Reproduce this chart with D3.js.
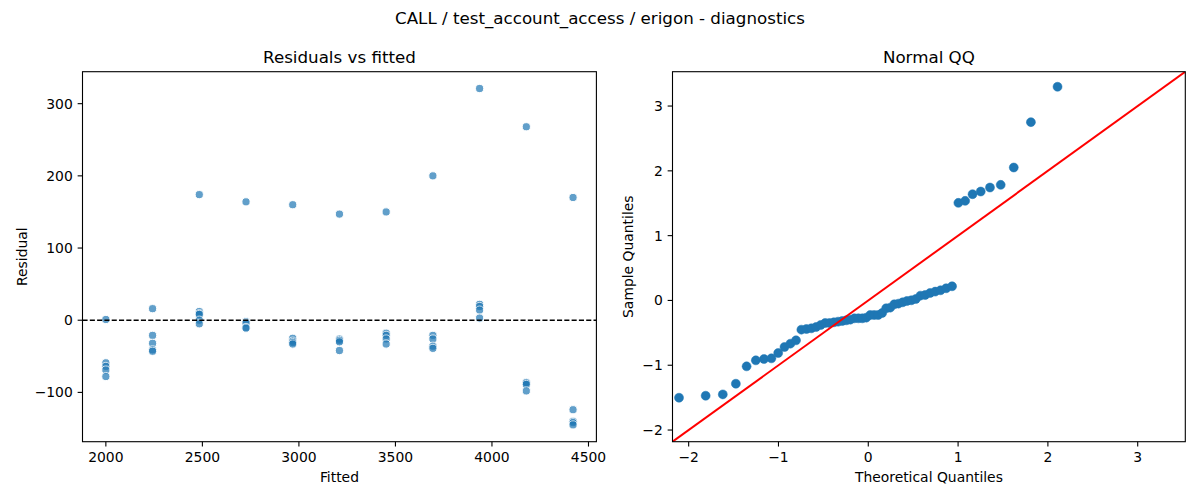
<!DOCTYPE html>
<html>
<head>
<meta charset="utf-8">
<script src="https://cdn.jsdelivr.net/npm/d3@7"></script>
<style>
  html, body { margin: 0; padding: 0; background: #fff; }
  svg { display: block; font-family: "DejaVu Sans", sans-serif; }
</style>
</head>
<body>
<svg id="chart" width="1200" height="500"></svg>
<script>
// ---- data ----
const fittedLevels = [2000, 2242, 2484, 2726, 2968, 3210, 3452, 3694, 3936, 4178, 4420];
const residualGroups = [
  [1, -59, -64, -69, -78],
  [16, -21, -32, -41, -43],
  [174, 12, 9, 8, 0, -5],
  [164, -2, -4, -10, -11],
  [160, -25, -29, -31, -33],
  [147, -26, -28, -30, -42],
  [150, -18, -21, -26, -33],
  [200, -21, -26, -36, -39],
  [321, 22, 19, 14, 3],
  [268, -86, -87, -89, -98],
  [170, -124, -140, -142, -145]
];
const residTicks = [-100, 0, 100, 200, 300];
const fittedTicks = [2000, 2500, 3000, 3500, 4000, 4500];
const qqTicks = [-2, -1, 0, 1, 2, 3];
const qqLimits = [-2.18, 3.53];
const suptitle = "CALL / test_account_access / erigon - diagnostics";

// ---- derived ----
const points = [];
fittedLevels.forEach((f, i) => residualGroups[i].forEach(r => points.push({ f, r })));
const resid = points.map(p => p.r);
const n = resid.length;
const mean = d3.mean(resid);
const sd = d3.deviation(resid);
const sorted = resid.slice().sort((a, b) => a - b);
// inverse normal CDF (Acklam)
function ppf(p) {
  const a = [-3.969683028665376e+01, 2.209460984245205e+02, -2.759285104469687e+02, 1.383577518672690e+02, -3.066479806614716e+01, 2.506628277459239e+00];
  const b = [-5.447609879822406e+01, 1.615858368580409e+02, -1.556989798598866e+02, 6.680131188771972e+01, -1.328068155288572e+01];
  const c = [-7.784894002430293e-03, -3.223964580411365e-01, -2.400758277161838e+00, -2.549732539343734e+00, 4.374664141464968e+00, 2.938163982698783e+00];
  const d = [7.784695709041462e-03, 3.224671290700398e-01, 2.445134137142996e+00, 3.754408661907416e+00];
  const pl = 0.02425, ph = 1 - pl;
  let q, r;
  if (p < pl) { q = Math.sqrt(-2 * Math.log(p)); return (((((c[0]*q+c[1])*q+c[2])*q+c[3])*q+c[4])*q+c[5]) / ((((d[0]*q+d[1])*q+d[2])*q+d[3])*q+1); }
  if (p <= ph) { q = p - 0.5; r = q*q; return (((((a[0]*r+a[1])*r+a[2])*r+a[3])*r+a[4])*r+a[5])*q / (((((b[0]*r+b[1])*r+b[2])*r+b[3])*r+b[4])*r+1); }
  q = Math.sqrt(-2 * Math.log(1 - p));
  return -(((((c[0]*q+c[1])*q+c[2])*q+c[3])*q+c[4])*q+c[5]) / ((((d[0]*q+d[1])*q+d[2])*q+d[3])*q+1);
}
const qq = sorted.map((v, i) => ({ t: ppf((i + 1) / (n + 1)), s: (v - mean) / sd }));

// ---- drawing ----
const svg = d3.select("#chart");
const tickLen = 4.86, tickPad = 4.86;
const fs = 13.9;

svg.append("text").attr("x", 600).attr("y", 24).attr("text-anchor", "middle")
  .attr("font-size", 16.7).attr("fill", "#000").text(suptitle);

function pad(ext) { const r = ext[1] - ext[0]; return [ext[0] - r * 0.05, ext[1] + r * 0.05]; }

function axesFrame(g, x, y, xTicks, yTicks, title, xlab, ylab, box, ylabX) {
  const xa = g.append("g").attr("transform", `translate(0,${box.b})`);
  xTicks.forEach(t => {
    const px = x(t);
    xa.append("line").attr("x1", px).attr("x2", px).attr("y1", 0).attr("y2", tickLen).attr("stroke", "#000").attr("stroke-width", 1.1);
    xa.append("text").attr("x", px).attr("y", 20.5).attr("text-anchor", "middle").attr("font-size", fs).attr("fill", "#000").text(String(t).replace("-", "\u2212"));
  });
  const ya = g.append("g").attr("transform", `translate(${box.l},0)`);
  yTicks.forEach(t => {
    const py = y(t);
    ya.append("line").attr("x1", -tickLen).attr("x2", 0).attr("y1", py).attr("y2", py).attr("stroke", "#000").attr("stroke-width", 1.1);
    ya.append("text").attr("x", -tickLen - tickPad).attr("y", py).attr("dy", "0.35em").attr("text-anchor", "end").attr("font-size", fs).attr("fill", "#000").text(String(t).replace("-", "\u2212"));
  });
  g.append("rect").attr("x", box.l).attr("y", box.t).attr("width", box.r - box.l).attr("height", box.b - box.t)
    .attr("fill", "none").attr("stroke", "#000").attr("stroke-width", 1.1);
  g.append("text").attr("x", (box.l + box.r) / 2).attr("y", box.t - 8.6).attr("text-anchor", "middle")
    .attr("font-size", 16.7).attr("fill", "#000").text(title);
  g.append("text").attr("x", (box.l + box.r) / 2).attr("y", 482).attr("text-anchor", "middle")
    .attr("font-size", fs).attr("fill", "#000").text(xlab);
  g.append("text").attr("transform", `translate(${ylabX},${(box.t + box.b) / 2}) rotate(-90)`).attr("text-anchor", "middle")
    .attr("font-size", fs).attr("fill", "#000").text(ylab);
}

// Left: residuals vs fitted
const boxL = { l: 82.5, r: 596.4, t: 71.7, b: 441.7 };
const xL = d3.scaleLinear().domain(pad(d3.extent(fittedLevels))).range([boxL.l, boxL.r]);
const yL = d3.scaleLinear().domain(pad(d3.extent(resid))).range([boxL.b, boxL.t]);
const gL = svg.append("g");
svg.append("clipPath").attr("id", "clipL").append("rect")
  .attr("x", boxL.l).attr("y", boxL.t).attr("width", boxL.r - boxL.l).attr("height", boxL.b - boxL.t);
const plotL = gL.append("g").attr("clip-path", "url(#clipL)");
plotL.selectAll("circle").data(points).join("circle")
  .attr("cx", d => xL(d.f)).attr("cy", d => yL(d.r)).attr("r", 4.1)
  .attr("fill", "#1f77b4").attr("stroke", "#fff").attr("stroke-width", 1).attr("opacity", 0.7);
plotL.append("line").attr("x1", boxL.l).attr("x2", boxL.r).attr("y1", yL(0)).attr("y2", yL(0))
  .attr("stroke", "#000").attr("stroke-width", 1.4).attr("stroke-dasharray", "5.1,2.2");
axesFrame(gL, xL, yL, fittedTicks, residTicks, "Residuals vs fitted", "Fitted", "Residual", boxL, 27);

// Right: Normal QQ
const boxR = { l: 672.5, r: 1185.3, t: 71.7, b: 441.7 };
const xR = d3.scaleLinear().domain(qqLimits).range([boxR.l, boxR.r]);
const yR = d3.scaleLinear().domain(qqLimits).range([boxR.b, boxR.t]);
const gR = svg.append("g");
svg.append("clipPath").attr("id", "clipR").append("rect")
  .attr("x", boxR.l).attr("y", boxR.t).attr("width", boxR.r - boxR.l).attr("height", boxR.b - boxR.t);
const plotR = gR.append("g").attr("clip-path", "url(#clipR)");
plotR.selectAll("circle").data(qq).join("circle")
  .attr("cx", d => xR(d.t)).attr("cy", d => yR(d.s)).attr("r", 4.5)
  .attr("fill", "#1f77b4").attr("stroke", "#1f77b4").attr("stroke-width", 0.5);
plotR.append("line").attr("x1", xR(qqLimits[0])).attr("y1", yR(qqLimits[0])).attr("x2", xR(qqLimits[1])).attr("y2", yR(qqLimits[1]))
  .attr("stroke", "red").attr("stroke-width", 2);
axesFrame(gR, xR, yR, qqTicks, qqTicks, "Normal QQ", "Theoretical Quantiles", "Sample Quantiles", boxR, 633);
</script>
</body>
</html>
